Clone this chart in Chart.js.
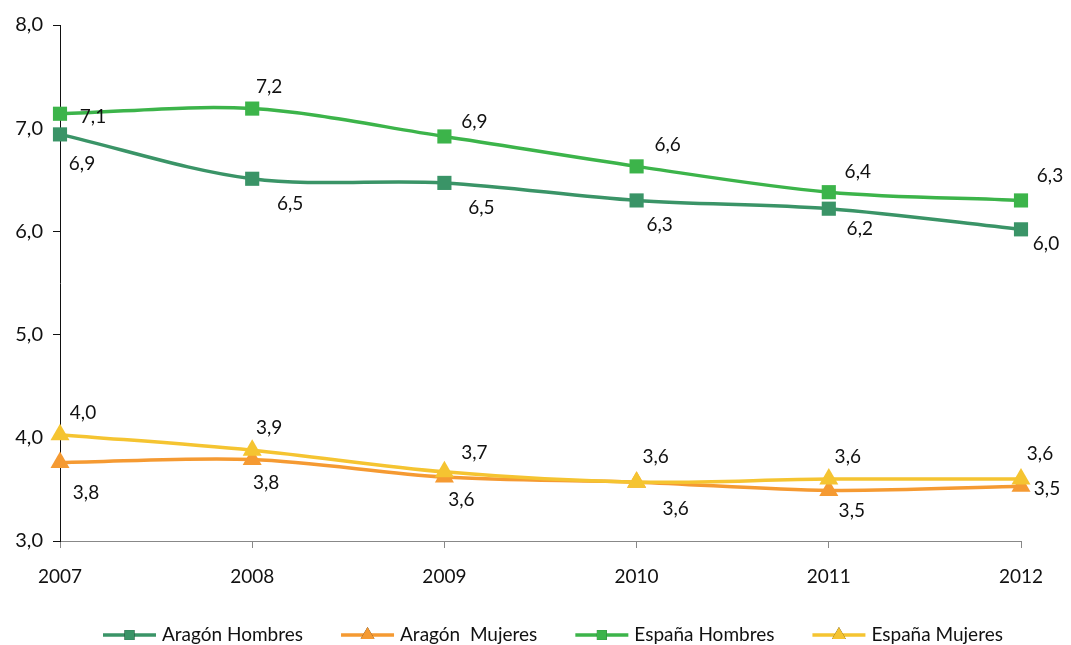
<!DOCTYPE html>
<html>
<head>
<meta charset="utf-8">
<script src="https://cdn.jsdelivr.net/npm/chart.js@4.4.1/dist/chart.umd.min.js"></script>
<style>
  html, body { margin: 0; padding: 0; background: #fff; }
  #wrap { width: 1071px; height: 645px; position: relative; }
</style>
</head>
<body>
<div id="wrap"><canvas id="chart"></canvas></div>
<script>
// data
const years = ['2007', '2008', '2009', '2010', '2011', '2012'];
const aragonHombres = [6.94, 6.51, 6.47, 6.30, 6.22, 6.02];
const aragonMujeres = [3.76, 3.79, 3.62, 3.57, 3.49, 3.53];
const espanaHombres = [7.14, 7.19, 6.92, 6.63, 6.38, 6.30];
const espanaMujeres = [4.03, 3.88, 3.67, 3.57, 3.60, 3.60];
const yMin = 3, yMax = 8, yStep = 1;

const FONT = 'Lato, "Open Sans", sans-serif';
const fmt = v => v.toFixed(1).replace('.', ',');

// label offsets (px) relative to each point
const labelOffsets = {
    aragonHombres: [[22, 29], [38, 25], [37, 25], [23, 24], [31, 20], [25, 15]],
    aragonMujeres: [[26, 30], [14, 23], [17, 23], [39, 27], [23, 20], [26, 3]],
    espanaHombres: [[33, 3], [17, -22], [30, -15], [31, -22], [29, -20], [29, -25]],
    espanaMujeres: [[23, -22], [17, -22], [30, -19], [19, -25], [19, -22], [19, -25]]
};

const dataLabels = {
    id: 'dataLabels',
    afterDatasetsDraw(chart) {
        const ctx = chart.ctx;
        ctx.save();
        ctx.font = '19px ' + FONT;
        ctx.fillStyle = '#111';
        ctx.textAlign = 'center';
        ctx.textBaseline = 'middle';
        chart.data.datasets.forEach((ds, i) => {
            const meta = chart.getDatasetMeta(i);
            const offs = labelOffsets[ds.key];
            meta.data.forEach((pt, j) => {
                ctx.fillText(fmt(ds.data[j]), pt.x + offs[j][0], pt.y + offs[j][1]);
            });
        });
        ctx.restore();
    }
};

// legend: line with marker through the middle, like the original
const lineLegend = {
    id: 'lineLegend',
    afterDraw(chart) {
        const ctx = chart.ctx;
        const items = chart.data.datasets;
        const lineW = 53, gap = 6, spacing = 38, y = 635, startX = 103;
        ctx.save();
        ctx.font = '19px ' + FONT;
        let x = startX;
        items.forEach(ds => {
            ctx.strokeStyle = ds.borderColor;
            ctx.lineWidth = 3.5;
            ctx.beginPath();
            ctx.moveTo(x, y);
            ctx.lineTo(x + lineW, y);
            ctx.stroke();
            Chart.helpers.drawPoint(ctx, {
                pointStyle: ds.pointStyle,
                radius: ds.pointStyle === 'triangle' ? 8 : 7,
                borderWidth: 0
            }, x + lineW / 2, y);
            ctx.fillStyle = ds.borderColor;
            ctx.fill();
            ctx.fillStyle = '#111';
            ctx.textAlign = 'left';
            ctx.textBaseline = 'middle';
            ctx.fillText(ds.label, x + lineW + gap, y);
            x += lineW + gap + ctx.measureText(ds.label).width + spacing;
        });
        ctx.restore();
    }
};

function series(key, label, data, color, style, order) {
    return {
        key, label, data, order,
        borderColor: color,
        backgroundColor: color,
        borderWidth: 3.5,
        pointStyle: style,
        pointRadius: style === 'triangle' ? 11 : 10,
        pointBorderWidth: 0,
        pointBackgroundColor: color,
        tension: 0.33
    };
}

new Chart(document.getElementById('chart'), {
    type: 'line',
    data: {
        labels: years,
        datasets: [
            series('aragonHombres', 'Aragón Hombres', aragonHombres, '#3a9467', 'rect', 1),
            series('aragonMujeres', 'Aragón  Mujeres', aragonMujeres, '#f59a32', 'triangle', 1),
            series('espanaHombres', 'España Hombres', espanaHombres, '#3cb44a', 'rect', 0),
            series('espanaMujeres', 'España Mujeres', espanaMujeres, '#f5c431', 'triangle', 0)
        ]
    },
    options: {
        responsive: true,
        maintainAspectRatio: false,
        animation: false,
        layout: { padding: { top: 25, right: 50, bottom: 54, left: 0 } },
        plugins: {
            legend: { display: false },
            tooltip: { enabled: false }
        },
        scales: {
            x: {
                offset: false,
                grid: { drawOnChartArea: false, drawTicks: true, tickLength: 7, color: '#888' },
                border: { color: '#888', width: 1 },
                ticks: { color: '#111', font: { family: FONT, size: 19 }, padding: 17, maxRotation: 0 },
                afterFit(scale) { scale.height = 50; }
            },
            y: {
                min: yMin,
                max: yMax,
                grid: { drawOnChartArea: false, drawTicks: true, tickLength: 7, color: '#111' },
                border: { color: '#111', width: 1 },
                ticks: {
                    stepSize: yStep,
                    color: '#111',
                    font: { family: FONT, size: 20 },
                    padding: 10,
                    callback: v => fmt(v)
                },
                afterFit(scale) { scale.width = 60; }
            }
        }
    },
    plugins: [dataLabels, lineLegend]
});
</script>
</body>
</html>
